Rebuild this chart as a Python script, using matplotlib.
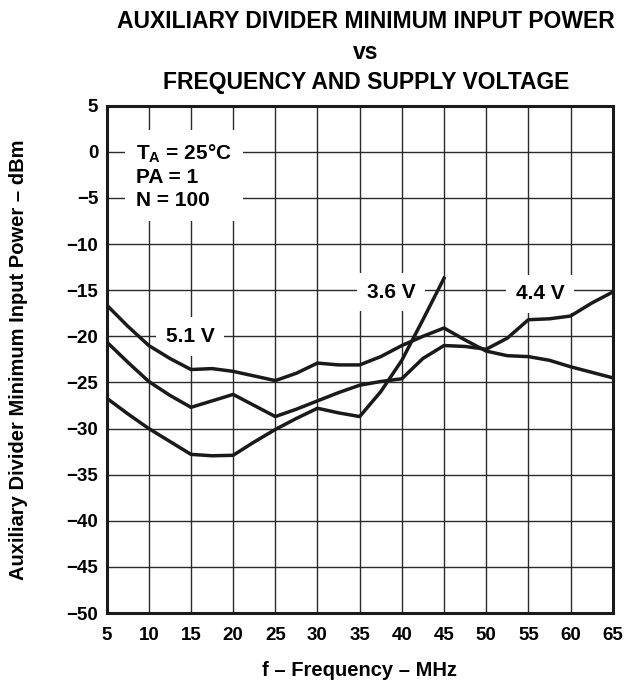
import matplotlib
matplotlib.use("Agg")
import matplotlib.pyplot as plt

plt.rcParams['font.family'] = ['Liberation Sans', 'DejaVu Sans']
plt.rcParams['font.weight'] = 'bold'
plt.rcParams['mathtext.fontset'] = 'custom'
plt.rcParams['mathtext.bf'] = 'Liberation Sans:bold'
plt.rcParams['mathtext.rm'] = 'Liberation Sans:bold'

# Frequency (MHz)
freq = [5, 7.5, 10, 12.5, 15, 17.5, 20, 22.5, 25, 27.5, 30, 32.5, 35, 37.5, 40,
        42.5, 45, 47.5, 50, 52.5, 55, 57.5, 60, 62.5, 65]
# 5.1 V curve (dBm)
v51 = [-16.6, -18.9, -21.0, -22.4, -23.6, -23.5, -23.8, -24.3, -24.8, -24.0,
       -22.9, -23.1, -23.1, -22.2, -21.0, -20.0, -19.1, -20.4, -21.6, -22.1,
       -22.2, -22.6, -23.3, -23.9, -24.5]
# 4.4 V curve (dBm)
v44 = [-20.6, -22.8, -24.9, -26.4, -27.7, -27.0, -26.3, -27.5, -28.7, -27.9,
       -27.0, -26.1, -25.3, -24.9, -24.6, -22.4, -21.0, -21.1, -21.4, -20.2,
       -18.2, -18.1, -17.8, -16.4, -15.2]
# 3.6 V curve (dBm), ends at 45 MHz
freq36 = [5, 7.5, 10, 12.5, 15, 17.5, 20, 22.5, 25, 27.5, 30, 32.5, 35, 37.5,
          40, 42.5, 45]
v36 = [-26.7, -28.4, -30.0, -31.4, -32.8, -32.95, -32.9, -31.45, -30.1, -28.9,
       -27.8, -28.3, -28.7, -26.0, -22.6, -18.2, -13.7]

xticks = [5, 10, 15, 20, 25, 30, 35, 40, 45, 50, 55, 60, 65]
yticks = [5, 0, -5, -10, -15, -20, -25, -30, -35, -40, -45, -50]

fig = plt.figure(figsize=(6.31, 6.80), dpi=100)
ax = fig.add_axes([0.169, 0.0985, 0.802, 0.746])

ax.set_xlim(5, 65)
ax.set_ylim(-50, 5)
ax.set_xticks(xticks)
ax.set_yticks(yticks)
ax.tick_params(length=0, labelsize=13.5)
ax.tick_params(axis='x', pad=10)
ax.tick_params(axis='y', pad=6)
for lab in ax.get_xticklabels() + ax.get_yticklabels():
    lab.set_fontweight('bold')
ax.grid(True, color='#2a2a2a', linewidth=1.0)
ax.set_axisbelow(True)
for s in ax.spines.values():
    s.set_linewidth(2.2)
    s.set_color('#1a1a1a')

lc = '#1a1a1a'
ax.plot(freq, v51, color=lc, linewidth=2.5, solid_joinstyle='round', zorder=3)
ax.plot(freq, v44, color=lc, linewidth=2.5, solid_joinstyle='round', zorder=3)
ax.plot(freq36, v36, color=lc, linewidth=2.5, solid_joinstyle='round', zorder=3)

ax.text(8.44, -2.64, '$\\mathbf{T_A}$ = 25°C\nPA = 1\nN = 100', fontsize=15,
        fontweight='bold', ha='left', va='center', linespacing=1.25,
        bbox=dict(facecolor='white', edgecolor='none', pad=8), zorder=2)
ax.text(14.9, -20.0, '5.1 V', fontsize=15, fontweight='bold', ha='center',
        va='center', bbox=dict(facecolor='white', edgecolor='none', pad=7),
        zorder=2)
ax.text(38.7, -15.2, '3.6 V', fontsize=15, fontweight='bold', ha='center',
        va='center', bbox=dict(facecolor='white', edgecolor='none', pad=7),
        zorder=2)
ax.text(56.4, -15.4, '4.4 V', fontsize=15, fontweight='bold', ha='center',
        va='center', bbox=dict(facecolor='white', edgecolor='none', pad=7),
        zorder=2)

ax.set_xlabel('f – Frequency – MHz', fontsize=14.5, fontweight='bold')
ax.set_ylabel('Auxiliary Divider Minimum Input Power – dBm', fontsize=14.5,
              fontweight='bold')
ax.xaxis.set_label_coords(0.5, -0.095)
ax.yaxis.set_label_coords(-0.156, 0.5)

fig.text(0.58, 0.968, 'AUXILIARY DIVIDER MINIMUM INPUT POWER', fontsize=16.5,
         fontweight='bold', ha='center', va='center')
fig.text(0.58, 0.9235, 'vs', fontsize=16.5, fontweight='bold', ha='center',
         va='center')
fig.text(0.58, 0.878, 'FREQUENCY AND SUPPLY VOLTAGE', fontsize=16.5,
         fontweight='bold', ha='center', va='center')

fig.savefig('out.png', dpi=100)
